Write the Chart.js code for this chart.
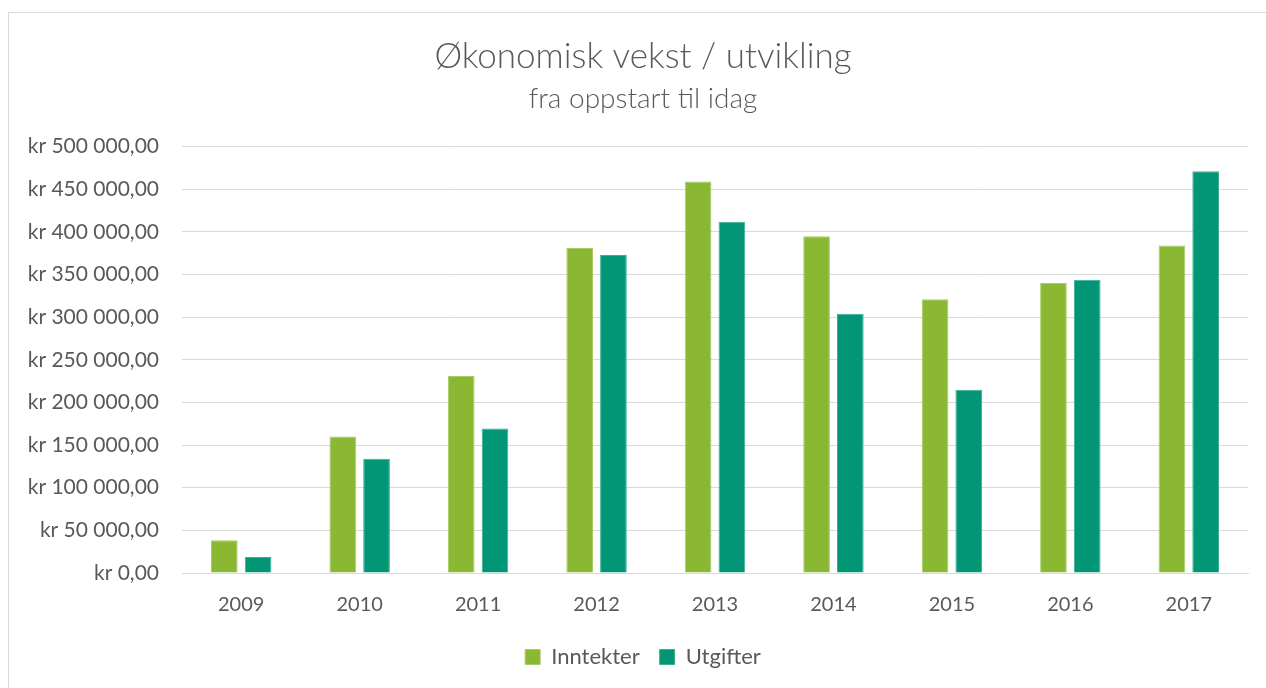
<!DOCTYPE html>
<html>
<head>
<meta charset="utf-8">
<script src="https://cdn.jsdelivr.net/npm/chart.js@4/dist/chart.umd.min.js"></script>
<style>
  html, body { margin: 0; padding: 0; background: #ffffff; }
  body { width: 1266px; height: 688px; overflow: hidden; position: relative; }
  #frame { position: absolute; left: 8px; top: 12px; width: 1300px; height: 700px; border: 1px solid #d9d9d9; box-sizing: border-box; }
  #wrap { position: absolute; left: 0; top: 0; width: 1266px; height: 688px; }
</style>
</head>
<body>
<div id="frame"></div>
<div id="wrap"><canvas id="c" width="1266" height="688"></canvas></div>
<script>
const categories = ['2009', '2010', '2011', '2012', '2013', '2014', '2015', '2016', '2017'];
const inntekter = [38500, 160000, 231000, 381000, 459000, 395000, 321000, 340000, 384000];
const utgifter = [18700, 134000, 169500, 373000, 412000, 304000, 215000, 344000, 471000];
const seriesNames = ['Inntekter', 'Utgifter'];
const titleText = 'Økonomisk vekst / utvikling';
const subtitleText = 'fra oppstart til idag';

function fmtKr(v) {
  const s = Math.round(v).toString().replace(/\B(?=(\d{3})+(?!\d))/g, ' ');
  return 'kr ' + s + ',00';
}

const FONT = 'Lato, "Open Sans", sans-serif';
const TXT = '#595959';

new Chart(document.getElementById('c'), {
  type: 'bar',
  data: {
    labels: categories,
    datasets: [
      { label: seriesNames[0], data: inntekter, backgroundColor: '#8AB833', borderColor: '#a8cc66', borderWidth: 1, barPercentage: 0.79, categoryPercentage: 0.57 },
      { label: seriesNames[1], data: utgifter, backgroundColor: '#029676', borderColor: '#3aae94', borderWidth: 1, barPercentage: 0.79, categoryPercentage: 0.57 }
    ]
  },
  options: {
    responsive: false,
    animation: false,
    devicePixelRatio: 1,
    layout: { padding: { left: 20, right: 0, top: 0, bottom: 10 } },
    plugins: {
      title: { display: true, text: titleText, color: TXT, font: { family: FONT, size: 35, weight: '300' }, padding: { top: 36, bottom: 4 } },
      subtitle: { display: true, text: subtitleText, color: TXT, font: { family: FONT, size: 28, weight: '300' }, padding: { top: 0, bottom: 31 } },
      legend: {
        position: 'bottom',
        labels: { color: TXT, font: { family: FONT, size: 22 }, boxWidth: 15, boxHeight: 15, padding: 20 }
      },
      tooltip: { enabled: false }
    },
    scales: {
      x: {
        afterFit: (s) => { s.height = 53; },
        grid: { display: false, drawTicks: false },
        border: { display: true, color: '#d9d9d9', width: 1 },
        ticks: { color: TXT, font: { family: FONT, size: 20 }, padding: 20 }
      },
      y: {
        min: 0, max: 500000,
        afterFit: (s) => { s.width = 162; },
        grid: { color: '#d9d9d9', lineWidth: 1, drawTicks: false },
        border: { display: false },
        ticks: { stepSize: 50000, color: TXT, font: { family: FONT, size: 21 }, padding: 23, callback: (v) => fmtKr(v) }
      },
      yRight: {
        type: 'linear',
        position: 'right',
        afterFit: (s) => { s.width = 18; },
        grid: { display: false, drawTicks: false },
        border: { display: false },
        ticks: { display: false }
      }
    }
  }
});
</script>
</body>
</html>
